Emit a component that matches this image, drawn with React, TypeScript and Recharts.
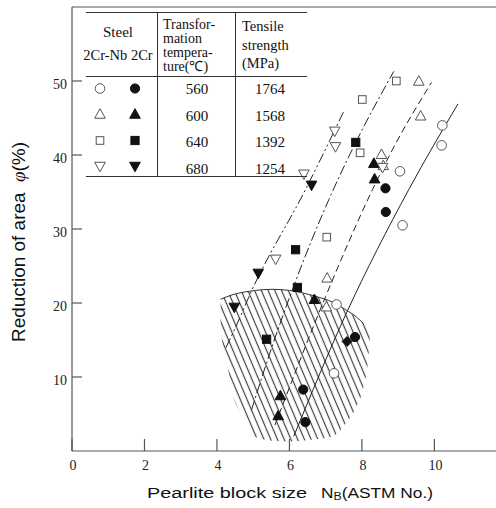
import React from 'react';
import { ComposedChart, XAxis, YAxis, Scatter, Line, Area, ReferenceLine } from 'recharts';

// ---------- data ----------
const xTicks = [0, 2, 4, 6, 8, 10];
const yTicks = [10, 20, 30, 40, 50];

// 560 °C
const open560 = [
  { x: 10.22, y: 44.0 }, { x: 10.2, y: 41.3 }, { x: 9.05, y: 37.8 },
  { x: 9.12, y: 30.5 }, { x: 7.3, y: 19.8 }, { x: 7.23, y: 10.5 },
];
const filled560 = [
  { x: 8.65, y: 35.5 }, { x: 8.66, y: 32.3 }, { x: 7.81, y: 15.4 },
  { x: 6.38, y: 8.3 }, { x: 6.44, y: 3.9 },
];
// 600 °C
const open600 = [
  { x: 9.57, y: 50.0 }, { x: 9.62, y: 45.3 }, { x: 8.54, y: 40.1 },
  { x: 8.59, y: 38.6 }, { x: 7.04, y: 23.4 }, { x: 7.02, y: 19.5 },
];
const filled600 = [
  { x: 8.33, y: 38.9 }, { x: 8.35, y: 36.8 }, { x: 6.69, y: 20.5 },
  { x: 5.75, y: 7.5 }, { x: 5.69, y: 4.8 },
];
// 640 °C
const open640 = [
  { x: 8.95, y: 50.0 }, { x: 8.01, y: 47.5 }, { x: 7.95, y: 40.3 }, { x: 7.03, y: 28.9 },
];
const filled640 = [
  { x: 7.83, y: 41.7 }, { x: 6.17, y: 27.2 }, { x: 6.22, y: 22.1 }, { x: 5.37, y: 15.1 },
];
// 680 °C
const open680 = [
  { x: 7.25, y: 43.2 }, { x: 7.27, y: 41.1 }, { x: 6.4, y: 37.4 }, { x: 5.62, y: 25.9 },
  { x: 8.57, y: 38.3 },
];
const filled680 = [
  { x: 6.61, y: 35.9 }, { x: 5.14, y: 24.0 }, { x: 4.48, y: 19.4 },
];
const filledDiamond = [{ x: 7.59, y: 14.8 }];

// trend curves
const line560 = [
  { x: 6.12, y: 2.0 }, { x: 7.55, y: 18.4 }, { x: 9.29, y: 35.3 }, { x: 10.65, y: 46.9 },
];
const line600 = [
  { x: 5.6, y: 3.5 }, { x: 7.0, y: 20.9 }, { x: 8.29, y: 35.3 },
  { x: 8.84, y: 40.7 }, { x: 9.92, y: 49.8 },
];
const line640 = [
  { x: 4.95, y: 5.5 }, { x: 5.43, y: 12.8 }, { x: 6.12, y: 22.3 },
  { x: 7.09, y: 34.0 }, { x: 7.83, y: 41.7 }, { x: 8.88, y: 51.3 },
];
const line680 = [
  { x: 4.25, y: 14.0 }, { x: 4.52, y: 16.8 }, { x: 4.97, y: 21.8 },
  { x: 6.44, y: 35.3 }, { x: 7.5, y: 45.9 },
];

// hatched region: upper arc and lower rim
const arcTop = [
  { x: 4.1, y: 20.5 }, { x: 4.42, y: 21.1 }, { x: 4.78, y: 21.5 }, { x: 5.06, y: 21.7 },
  { x: 5.52, y: 21.85 }, { x: 6.0, y: 21.7 }, { x: 6.72, y: 20.9 }, { x: 7.2, y: 20.1 },
  { x: 7.55, y: 19.1 }, { x: 7.85, y: 18.1 }, { x: 8.05, y: 17.2 },
];
const hatchX = [4.1, 4.18, 4.31, 4.42, 4.78, 5.06, 5.52, 6.0, 6.72, 7.2, 7.55, 7.85, 8.05, 8.18, 8.22];
const hatchLow = [16.4, 13.7, 11.0, 7.9, 4.3, 1.9, 1.4, 1.3, 1.6, 2.0, 3.7, 6.0, 8.8, 12.8, 15.6];
const hatchHigh = [20.5, 20.7, 20.95, 21.1, 21.5, 21.7, 21.85, 21.7, 20.9, 20.1, 19.1, 18.1, 17.2, 16.6, 16.4];
const hatchData = hatchX.map((x, i) => ({ x, range: [hatchLow[i], hatchHigh[i]] }));

// legend table
const tableTemps = ['560', '600', '640', '680'];
const tableStrength = ['1764', '1568', '1392', '1254'];
const tableKinds = ['circle', 'tri', 'sq', 'tridown'];

// ---------- drawing helpers ----------
const SERIF = "'Liberation Serif', 'Times New Roman', serif";
const SANS = "'Liberation Sans', Arial, sans-serif";
const AX = '#555';

function marker(kind: string, filled: boolean, cx: number, cy: number) {
  const fill = filled ? '#111' : '#fff';
  const stroke = filled ? '#111' : '#555';
  const sw = 1;
  if (kind === 'circle') {
    return <circle cx={cx} cy={cy} r={filled ? 4.6 : 4.8} fill={fill} stroke={stroke} strokeWidth={sw} />;
  }
  if (kind === 'tri') {
    const s = 5.3;
    return (
      <polygon
        points={`${cx},${cy - s} ${cx + s},${cy + s * 0.8} ${cx - s},${cy + s * 0.8}`}
        fill={fill} stroke={stroke} strokeWidth={sw}
      />
    );
  }
  if (kind === 'tridown') {
    const s = 5.3;
    return (
      <polygon
        points={`${cx},${cy + s} ${cx + s},${cy - s * 0.8} ${cx - s},${cy - s * 0.8}`}
        fill={fill} stroke={stroke} strokeWidth={sw}
      />
    );
  }
  if (kind === 'diamond') {
    const s = 5;
    return (
      <polygon
        points={`${cx},${cy - s} ${cx + s},${cy} ${cx},${cy + s} ${cx - s},${cy}`}
        fill={fill} stroke={stroke} strokeWidth={sw}
      />
    );
  }
  const h = filled ? 4.1 : 3.8;
  return <rect x={cx - h} y={cy - h} width={2 * h} height={2 * h} fill={fill} stroke={stroke} strokeWidth={sw} />;
}

const shapeOf = (kind: string, filled: boolean) => (p: any) => marker(kind, filled, p.cx, p.cy);

const XTick = (props: any) => {
  const { x, y, payload } = props;
  return (
    <g>
      <line x1={x} y1={y} x2={x} y2={y - 12} stroke={AX} strokeWidth={1.2} />
      <text x={x + 1} y={y + 19} textAnchor="middle" fontFamily={SERIF} fontSize={14} fill="#222">
        {payload.value}
      </text>
    </g>
  );
};

const YTick = (props: any) => {
  const { x, y, payload } = props;
  return (
    <g>
      <line x1={x} y1={y} x2={x + 10} y2={y} stroke={AX} strokeWidth={1.2} />
      <text x={x - 5} y={y + 8} textAnchor="end" fontFamily={SERIF} fontSize={14} fill="#222">
        {payload.value}
      </text>
    </g>
  );
};

const LegendTable = () => {
  const rowY = [88.5, 114, 140.5, 166.5];
  const textY = [94, 120.5, 147, 173.5];
  return (
    <g fill="#111">
      <line x1={86} y1={12.5} x2={307} y2={12.5} stroke="#333" />
      <line x1={86} y1={76.5} x2={307} y2={76.5} stroke="#333" />
      <line x1={86} y1={176.5} x2={307} y2={176.5} stroke="#333" />
      <line x1={157.5} y1={12.5} x2={157.5} y2={176.5} stroke="#333" />
      <line x1={235.5} y1={12.5} x2={235.5} y2={176.5} stroke="#333" />
      <text x={118} y={37} textAnchor="middle" fontFamily={SERIF} fontSize={15}>Steel</text>
      <text x={118} y={60} textAnchor="middle" fontFamily={SERIF} fontSize={14.5}>2Cr-Nb 2Cr</text>
      <text x={163} y={29} fontFamily={SERIF} fontSize={14}>Transfor-</text>
      <text x={163} y={43} fontFamily={SERIF} fontSize={14}>mation</text>
      <text x={163} y={57} fontFamily={SERIF} fontSize={14}>tempera-</text>
      <text x={163} y={71} fontFamily={SERIF} fontSize={14}>ture(℃)</text>
      <text x={242} y={31} fontFamily={SERIF} fontSize={14.5}>Tensile</text>
      <text x={242} y={49.5} fontFamily={SERIF} fontSize={14.5}>strength</text>
      <text x={242} y={68} fontFamily={SERIF} fontSize={14.5}>(MPa)</text>
      {tableTemps.map((t, i) => (
        <g key={t}>
          {marker(tableKinds[i], false, 100, rowY[i])}
          {marker(tableKinds[i], true, 135, rowY[i])}
          <text x={197} y={textY[i]} textAnchor="middle" fontFamily={SERIF} fontSize={15}>{t}</text>
          <text x={270} y={textY[i]} textAnchor="middle" fontFamily={SERIF} fontSize={15}>{tableStrength[i]}</text>
        </g>
      ))}
    </g>
  );
};

export default function App() {
  const common = { isAnimationActive: false, legendType: 'none' as const };
  return (
    <div style={{ position: 'absolute', left: 0, top: 0, width: 496, height: 508, background: '#fff' }}>
      <svg width={0} height={0} style={{ position: 'absolute' }}>
        <defs>
          <pattern id="hatch" patternUnits="userSpaceOnUse" width={6.2} height={20} patternTransform="rotate(-23)">
            <line x1={3.1} y1={-2} x2={3.1} y2={22} stroke="#3a3a3a" strokeWidth={1.15} />
          </pattern>
        </defs>
      </svg>
      <ComposedChart width={496} height={508} margin={{ top: 7, right: 0, bottom: 0, left: 0 }}>
        <XAxis
          dataKey="x" type="number" domain={[0, 11.7]} ticks={xTicks} interval={0}
          tick={XTick} tickSize={0} tickMargin={0} tickLine={false}
          axisLine={{ stroke: AX, strokeWidth: 1.2 }} height={57} allowDataOverflow
        />
        <YAxis
          dataKey="y" type="number" domain={[0, 60]} ticks={yTicks} interval={0}
          tick={YTick} tickSize={0} tickMargin={0} tickLine={false}
          axisLine={{ stroke: AX, strokeWidth: 1.2 }} width={72} allowDataOverflow
        />
        <ReferenceLine y={60} stroke={AX} strokeWidth={1.2} />
        <Area data={hatchData} dataKey="range" type="monotone" stroke="none" fill="url(#hatch)" fillOpacity={1} {...common} />
        <Line data={arcTop} dataKey="y" type="monotone" stroke="#333" strokeWidth={1} dot={false} activeDot={false} {...common} />
        <Line data={line560} dataKey="y" type="monotone" stroke="#222" strokeWidth={1} dot={false} activeDot={false} {...common} />
        <Line data={line600} dataKey="y" type="monotone" stroke="#222" strokeWidth={1} strokeDasharray="7 4" dot={false} activeDot={false} {...common} />
        <Line data={line640} dataKey="y" type="monotone" stroke="#222" strokeWidth={1} strokeDasharray="10 3 2 3" dot={false} activeDot={false} {...common} />
        <Line data={line680} dataKey="y" type="monotone" stroke="#222" strokeWidth={1} strokeDasharray="10 3 2 3 2 3" dot={false} activeDot={false} {...common} />
        <Scatter data={open560} dataKey="y" shape={shapeOf('circle', false)} {...common} />
        <Scatter data={filled560} dataKey="y" shape={shapeOf('circle', true)} {...common} />
        <Scatter data={open600} dataKey="y" shape={shapeOf('tri', false)} {...common} />
        <Scatter data={filled600} dataKey="y" shape={shapeOf('tri', true)} {...common} />
        <Scatter data={open640} dataKey="y" shape={shapeOf('sq', false)} {...common} />
        <Scatter data={filled640} dataKey="y" shape={shapeOf('sq', true)} {...common} />
        <Scatter data={open680} dataKey="y" shape={shapeOf('tridown', false)} {...common} />
        <Scatter data={filled680} dataKey="y" shape={shapeOf('tridown', true)} {...common} />
        <Scatter data={filledDiamond} dataKey="y" shape={shapeOf('diamond', true)} {...common} />
      </ComposedChart>
      <svg width={496} height={508} style={{ position: 'absolute', left: 0, top: 0, pointerEvents: 'none' }}>
        <LegendTable />
        <text
          transform="translate(25,242) rotate(-90)" textAnchor="middle" fontFamily={SANS} fontSize={19}
          textLength={200} lengthAdjust="spacingAndGlyphs" fill="#111"
        >
          Reduction of area{'\u00a0\u00a0'}<tspan fontFamily={SERIF} fontStyle="italic">φ</tspan>(%)
        </text>
        <text x={147} y={498} fontFamily={SANS} fontSize={14} textLength={160} lengthAdjust="spacingAndGlyphs" fill="#111">
          Pearlite block size
        </text>
        <text x={321} y={498} fontFamily={SANS} fontSize={14} textLength={112} lengthAdjust="spacingAndGlyphs" fill="#111">
          N<tspan fontSize={10} dy={2}>B</tspan><tspan dy={-2}>(ASTM No.)</tspan>
        </text>
      </svg>
    </div>
  );
}
